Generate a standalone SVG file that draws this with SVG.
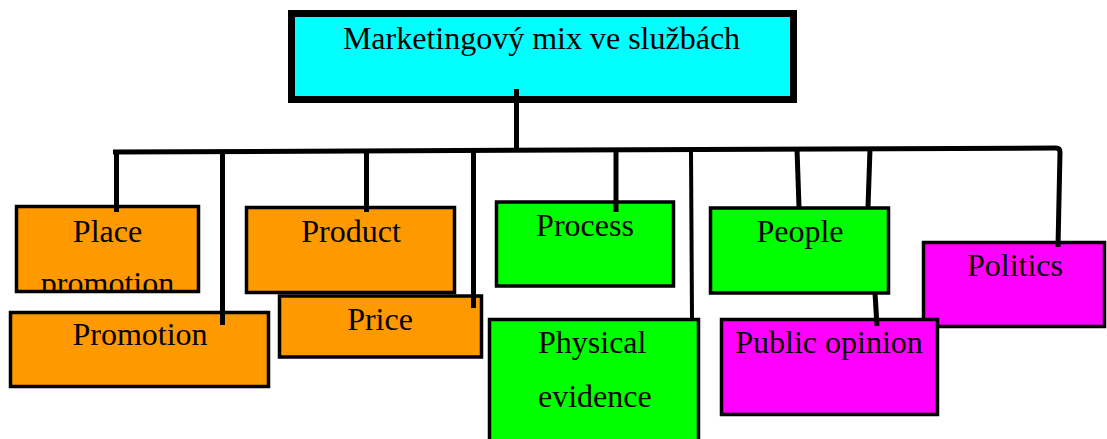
<svg xmlns="http://www.w3.org/2000/svg" width="1107" height="439" viewBox="0 0 1107 439">
  <style>
    .box { stroke: #000; stroke-width: 3.5; }
    .orange { fill: #FF9900; }
    .green { fill: #00FF00; }
    .magenta { fill: #FF00FF; }
    .label { font-family: "Liberation Serif", "Times New Roman", serif; font-size: 32px; fill: #000; text-anchor: middle; }
    .wire { fill: none; stroke: #000; stroke-width: 5; stroke-linejoin: round; }
  </style>
  <defs>
    <clipPath id="placeClip">
      <rect x="18" y="208" width="179" height="83"/>
    </clipPath>
  </defs>

  <!-- root -->
  <g id="root">
    <rect x="291.5" y="13.5" width="502" height="86" fill="#00FFFF" stroke="#000" stroke-width="7"/>
    <text class="label" x="541.5" y="49">Marketingový mix ve službách</text>
  </g>

  <!-- children -->
  <g id="place">
    <rect class="box orange" x="16.5" y="206.5" width="182" height="85"/>
    <g clip-path="url(#placeClip)">
      <text class="label" x="107.5" y="242">Place</text>
      <text class="label" x="107.5" y="294">promotion</text>
    </g>
  </g>
  <g id="promotion">
    <rect class="box orange" x="10.5" y="312.5" width="258" height="74"/>
    <text class="label" x="140" y="345">Promotion</text>
  </g>
  <g id="product">
    <rect class="box orange" x="246.5" y="207.5" width="208" height="85"/>
    <text class="label" x="351" y="242">Product</text>
  </g>
  <g id="price">
    <rect class="box orange" x="279.5" y="296" width="202" height="61"/>
    <text class="label" x="380" y="330">Price</text>
  </g>
  <g id="process">
    <rect class="box green" x="496.5" y="202" width="177" height="84"/>
    <text class="label" x="585" y="236">Process</text>
  </g>
  <g id="physical-evidence">
    <rect class="box green" x="489.5" y="319.5" width="209" height="130"/>
    <text class="label" x="538" y="353" style="text-anchor:start">Physical</text>
    <text class="label" x="538" y="407" style="text-anchor:start">evidence</text>
  </g>
  <g id="people">
    <rect class="box green" x="710.5" y="208" width="178" height="85"/>
    <text class="label" x="800" y="242">People</text>
  </g>
  <g id="politics">
    <rect class="box magenta" x="923.5" y="242.5" width="181" height="84"/>
    <text class="label" x="1015" y="276">Politics</text>
  </g>
  <g id="public-opinion">
    <rect class="box magenta" x="721.5" y="319.5" width="216" height="95"/>
    <text class="label" x="829" y="353">Public opinion</text>
  </g>

  <!-- connectors -->
  <g id="connectors">
    <path class="wire" d="M516.5,89 L516.5,152"/>
    <path class="wire" d="M113,152 L1056,148 Q1060,148 1060,152 L1058,247"/>
    <path class="wire" d="M116.5,151 L116.5,212"/>
    <path class="wire" d="M222.5,151 L222.5,325"/>
    <path class="wire" d="M366.5,151 L366.5,212"/>
    <path class="wire" d="M473.5,151 L473.5,308"/>
    <path class="wire" d="M616,150 L616,212"/>
    <path class="wire" style="stroke-width:4" d="M691,150 L692,319"/>
    <path class="wire" d="M797,149 L799,207"/>
    <path class="wire" d="M870,149 L868,207"/>
    <path class="wire" d="M875,293 L877,326"/>
  </g>
</svg>
